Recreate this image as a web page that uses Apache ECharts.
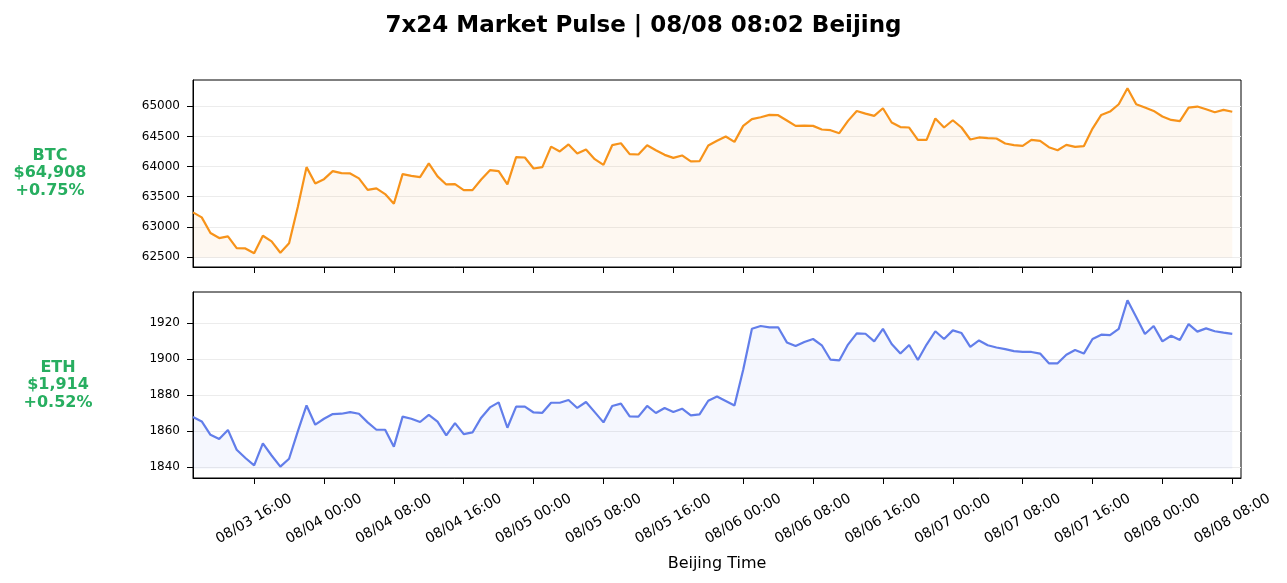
<!DOCTYPE html>
<html>
<head>
<meta charset="utf-8">
<script src="https://cdn.jsdelivr.net/npm/echarts@6/dist/echarts.min.js"></script>
<style>
  html, body { margin: 0; padding: 0; background: #fff; }
  #main { width: 1287px; height: 583px; }
</style>
</head>
<body>
<div id="main"></div>
<script>
// hourly closes, 08/03 09:00 -> 08/08 08:00 (Beijing)
var startHour = 9; // hours since 08/03 00:00
var btcValues = [63240,63157,62897,62814,62842,62648,62642,62561,62853,62759,
  62571,62726,63330,63990,63720,63791,63924,63891,63885,63803,
  63614,63637,63543,63382,63874,63846,63824,64051,63836,63703,
  63709,63609,63609,63786,63940,63924,63703,64155,64150,63968,
  63990,64330,64250,64366,64217,64283,64122,64028,64354,64387,
  64205,64200,64354,64271,64194,64144,64184,64084,64089,64349,
  64426,64498,64409,64674,64785,64818,64856,64851,64763,64674,
  64680,64674,64614,64603,64553,64757,64922,64878,64840,64967,
  64730,64655,64647,64442,64442,64796,64647,64768,64647,64448,
  64482,64470,64465,64382,64354,64343,64442,64426,64321,64271,
  64360,64326,64337,64630,64856,64912,65033,65298,65033,64978,
  64922,64829,64773,64752,64978,64995,64950,64900,64939,64908];
var ethValues = [1867.8,1865.3,1857.9,1855.6,1860.6,1849.6,1845,1840.9,1853.1,1846.4,
  1840.2,1844.6,1859.8,1874.2,1863.5,1866.8,1869.4,1869.6,1870.5,1869.6,
  1864.8,1860.7,1860.7,1851.3,1868,1866.8,1865,1868.9,1865.2,1857.6,
  1864.4,1858.3,1859.2,1867.4,1873.1,1875.9,1861.8,1873.5,1873.5,1870.3,
  1870.1,1875.7,1875.7,1877.2,1872.8,1876.1,1870.5,1864.8,1873.9,1875.2,
  1868.1,1868,1873.9,1870,1872.8,1870.5,1872.4,1868.7,1869.2,1876.8,
  1879.2,1876.7,1874.2,1894,1916.8,1918.3,1917.6,1917.6,1909.2,1907.2,
  1909.4,1911.1,1907.6,1899.6,1899.2,1908,1914.2,1914,1909.8,1916.7,
  1908.3,1903,1907.8,1899.4,1908,1915.4,1911.1,1915.9,1914.4,1906.7,
  1910.3,1907.6,1906.4,1905.5,1904.4,1903.9,1903.9,1903,1897.6,1897.6,
  1902.4,1905,1903,1911.1,1913.5,1913.2,1916.7,1932.6,1923.3,1913.9,
  1918.3,1909.8,1912.9,1910.5,1919.4,1915.2,1917,1915.4,1914.6,1913.9];

var xTickHours = [16,24,32,40,48,56,64,72,80,88,96,104,112,120,128];
var btcTicks = [62500,63000,63500,64000,64500,65000];
var ethTicks = [1840,1860,1880,1900,1920];

var titleText = '7x24 Market Pulse | 08/08 08:02 Beijing';
var btcLabel = ['BTC', '$64,908', '+0.75%'];
var ethLabel = ['ETH', '$1,914', '+0.52%'];

var FONT = 'DejaVu Sans';
var GREEN = '#27ae60';

function pad(n) { return n < 10 ? '0' + n : '' + n; }
function hourLabel(h) {
  var day = 3 + Math.floor(h / 24);
  return '08/' + pad(day) + ' ' + pad(h % 24) + ':00';
}
function pairs(vals) {
  var out = [];
  for (var i = 0; i < vals.length; i++) out.push([startHour + i, vals[i]]);
  return out;
}

var chart = echarts.init(document.getElementById('main'));

function xAxisCfg(idx, withLabels) {
  return {
    type: 'value', gridIndex: idx, min: 9, max: 129,
    axisLine: { show: true, lineStyle: { color: '#000', width: 1 } },
    axisTick: { show: true, length: 6, customValues: xTickHours, lineStyle: { color: '#000' } },
    axisLabel: {
      show: withLabels, customValues: xTickHours, rotate: 30, margin: 41,
      align: 'center', verticalAlign: 'middle',
      fontFamily: FONT, fontSize: 14, color: '#000',
      formatter: function (v) { return hourLabel(v); }
    },
    splitLine: { show: false },
    name: withLabels ? 'Beijing Time' : '',
    nameLocation: 'middle', nameGap: 78,
    nameTextStyle: { fontFamily: FONT, fontSize: 16, color: '#000' }
  };
}
function yAxisCfg(idx, mn, mx, ticks) {
  return {
    type: 'value', gridIndex: idx, min: mn, max: mx,
    axisLine: { show: true, lineStyle: { color: '#000', width: 1 } },
    axisTick: { show: true, length: 6, customValues: ticks, lineStyle: { color: '#000' } },
    axisLabel: {
      customValues: ticks, margin: 13, fontFamily: FONT, fontSize: 12, color: '#000',
      formatter: function (v) { return String(v); }
    },
    splitLine: { show: true, lineStyle: { color: '#ececec', width: 1 } }
  };
}

chart.setOption({
  animation: false,
  backgroundColor: '#fff',
  title: {
    text: titleText, left: 'center', top: 10,
    textStyle: { fontFamily: FONT, fontSize: 23, fontWeight: 'bold', color: '#000' }
  },
  graphic: [
    { type: 'text', style: {
      text: btcLabel.join('\n'), x: 50, y: 173, textAlign: 'center', textVerticalAlign: 'middle',
      font: 'bold 16px "DejaVu Sans"', lineHeight: 17.5, fill: GREEN } },
    { type: 'text', style: {
      text: ethLabel.join('\n'), x: 58, y: 385, textAlign: 'center', textVerticalAlign: 'middle',
      font: 'bold 16px "DejaVu Sans"', lineHeight: 17.5, fill: GREEN } }
  ],
  grid: [
    { left: 193, top: 80, width: 1048, height: 187, show: true, borderColor: '#000', borderWidth: 1, backgroundColor: 'transparent' },
    { left: 193, top: 292, width: 1048, height: 186, show: true, borderColor: '#000', borderWidth: 1, backgroundColor: 'transparent' }
  ],
  xAxis: [xAxisCfg(0, false), xAxisCfg(1, true)],
  yAxis: [
    yAxisCfg(0, 62334, 65435, btcTicks),
    yAxisCfg(1, 1833.9, 1937.2, ethTicks)
  ],
  series: [
    {
      type: 'line', xAxisIndex: 0, yAxisIndex: 0, data: pairs(btcValues),
      symbol: 'none', lineStyle: { color: '#f7931a', width: 2.2 },
      areaStyle: { color: 'rgba(247,147,26,0.09)', origin: 62490 }
    },
    {
      type: 'line', xAxisIndex: 1, yAxisIndex: 1, data: pairs(ethValues),
      symbol: 'none', lineStyle: { color: '#627eea', width: 2.2 },
      areaStyle: { color: 'rgba(98,126,234,0.09)', origin: 1839 }
    }
  ]
});
</script>
</body>
</html>
